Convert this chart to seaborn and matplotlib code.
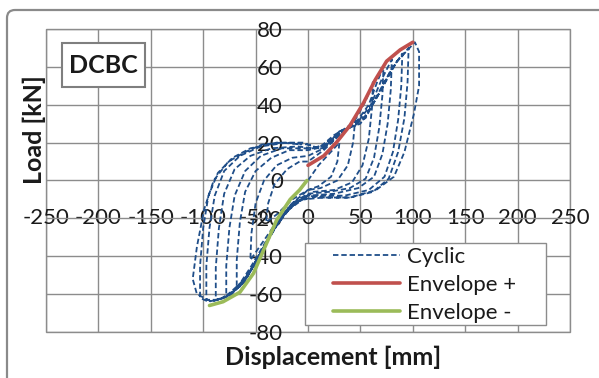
import numpy as np
import pandas as pd
import matplotlib.pyplot as plt
import seaborn as sns
from matplotlib.patches import Rectangle, FancyBboxPatch

# cyclic record, one cycle per pair of lists (displacement mm, load kN)
c1_x = [0, 10, 20, 30, 28, 22, 10, 0, -15, -30, -40, -38, -32, -20, -8, 0]
c1_y = [0, 8, 14, 20, 10, 2, -3, -5, -10, -18, -22, -12, -2, 6, 10, 10]
c2_x = [0, 15, 30, 45, 43, 38, 28, 12, 0, -15, -30, -45, -55, -54, -50, -42, -30, -15, 0]
c2_y = [10, 16, 24, 32, 20, 8, 0, -4, -5, -12, -22, -34, -42, -28, -12, 0, 8, 12, 13]
c3_x = [0, 15, 30, 45, 55, 62, 61, 58, 52, 42, 25, 5, -10, -25, -40, -55, -68, -68, -65, -60, -50, -35, -18, 0]
c3_y = [13, 17, 24, 32, 42, 52, 38, 22, 8, -1, -5, -6, -11, -19, -32, -46, -57, -42, -22, -6, 5, 12, 16, 16]
c4_x = [0, 15, 30, 45, 58, 66, 72, 71, 68, 63, 55, 40, 20, 0, -15, -30, -45, -60, -78, -78, -75, -70, -60, -45, -25, 0]
c4_y = [16, 18, 25, 30, 40, 52, 60, 45, 28, 12, 1, -4, -6, -7, -12, -22, -38, -52, -61, -45, -25, -8, 5, 13, 17, 17]
c5_x = [0, 15, 30, 45, 60, 70, 80, 79, 76, 71, 63, 48, 25, 0, -15, -30, -45, -60, -75, -88, -88, -85, -80, -70, -55, -35, -10, 5]
c5_y = [17, 17, 26, 29, 40, 53, 64, 48, 30, 14, 2, -4, -7, -8, -13, -23, -38, -53, -61, -63, -46, -25, -7, 6, 13, 17, 18, 17]
c6_x = [5, 20, 35, 50, 65, 78, 90, 89, 86, 81, 73, 58, 35, 10, -10, -25, -40, -55, -70, -85, -97, -97, -94, -89, -80, -65, -45, -20, 0, 10]
c6_y = [17, 20, 27, 30, 43, 57, 67, 50, 32, 15, 2, -5, -8, -8, -11, -19, -33, -48, -58, -63, -63, -45, -25, -8, 5, 13, 18, 20, 19, 17]
c7_x = [10, 25, 40, 55, 68, 82, 96, 95, 92, 86, 77, 62, 40, 15, -5, -20, -35, -50, -65, -80, -95, -103, -103, -100, -95, -86, -72, -55, -30, -5, 10]
c7_y = [17, 23, 28, 33, 47, 61, 70, 52, 33, 15, 1, -6, -9, -9, -10, -16, -28, -44, -56, -62, -64, -62, -45, -25, -8, 4, 12, 17, 20, 20, 17]
c8_x = [10, 25, 40, 55, 70, 85, 102, 106, 106, 101, 92, 82, 65, 40, 15, 0, -15, -30, -45, -60, -75, -92, -106, -110, -106, -99, -90, -76, -60, -44, -25, -6]
c8_y = [17, 24, 29, 34, 48, 63, 73, 68, 50, 35, 15, 2, -5, -9, -9, -8, -13, -24, -38, -53, -61, -64, -60, -52, -35, -15, 0, 10, 15, 19, 20, 19]

env_pos_x = [0, 15, 27, 40, 53, 64, 75, 88, 100]
env_pos_y = [8, 13, 20, 29, 41, 53, 63, 69, 73]
env_neg_x = [-1, -8, -17, -30, -41, -52, -65, -81, -94]
env_neg_y = [0, -5, -10, -21, -35, -49, -59, -64, -66]

x_ticks = [-250, -200, -150, -100, -50, 0, 50, 100, 150, 200, 250]
y_ticks = [-80, -60, -40, -20, 0, 20, 40, 60, 80]

cyc = pd.DataFrame({
    'disp': c1_x + c2_x + c3_x + c4_x + c5_x + c6_x + c7_x + c8_x,
    'load': c1_y + c2_y + c3_y + c4_y + c5_y + c6_y + c7_y + c8_y,
})

sns.set_style('white')
plt.rcParams['font.family'] = ['Lato', 'DejaVu Sans']
plt.rcParams['axes.unicode_minus'] = False
text_col = '#1a1a1a'
grid_col = '#8c8c8c'

fig = plt.figure(figsize=(5.99, 3.78), dpi=100)
ax = fig.add_axes([46 / 599, 1 - 332 / 378, 524 / 599, 303 / 378])

sns.lineplot(data=cyc, x='disp', y='load', sort=False, estimator=None, ax=ax,
             color='#1f4e89', lw=1.3, linestyle=(0, (3, 1.6)), label='Cyclic')
sns.lineplot(x=env_pos_x, y=env_pos_y, sort=False, estimator=None, ax=ax,
             color='#c0504d', lw=2.6, label='Envelope +')
sns.lineplot(x=env_neg_x, y=env_neg_y, sort=False, estimator=None, ax=ax,
             color='#9bbb59', lw=2.6, label='Envelope -')

ax.set_xlim(-250, 250)
ax.set_ylim(-80, 80)
ax.set_xticks(x_ticks)
ax.set_yticks(y_ticks)
ax.grid(True, color=grid_col, lw=1.0)
ax.set_axisbelow(True)
for s in ax.spines.values():
    s.set_visible(False)
ax.patch.set_edgecolor(grid_col)
ax.patch.set_linewidth(1.0)

# tick labels sit near the origin, like the Excel chart
ax.spines['left'].set_position(('data', 0))
ax.spines['bottom'].set_position(('data', -20))
ax.tick_params(axis='both', length=0, labelsize=16, colors=text_col)
ax.tick_params(axis='y', pad=18)
ax.tick_params(axis='x', pad=0)
for lbl in ax.get_xticklabels():
    lbl.set_va('center')

ax.set_xlabel('Displacement [mm]', fontsize=18, fontweight='bold', color=text_col)
ax.set_ylabel('Load [kN]', fontsize=18, fontweight='bold', color=text_col)
ax.xaxis.set_label_coords(0.548, -0.083)
ax.xaxis.label.set_va('center')
ax.yaxis.set_label_coords(-0.023, 0.667)
ax.yaxis.label.set_va('center')

# DCBC tag
ax.add_patch(Rectangle((0.0305, 0.8086), 0.158, 0.145, transform=ax.transAxes,
                       facecolor='white', edgecolor='#7f7f7f', lw=1.5, zorder=5))
ax.text(0.1097, 0.881, 'DCBC', transform=ax.transAxes, ha='center', va='center',
        fontsize=18, fontweight='bold', color=text_col, zorder=6)

# legend box drawn separately so the side padding can be wider than the top
ax.add_patch(Rectangle((259 / 524, 1 - 296 / 303), 241 / 524, 82 / 303,
                       transform=ax.transAxes, facecolor='white',
                       edgecolor=grid_col, lw=1.0, zorder=4.5))
leg = ax.legend(loc='upper left', bbox_to_anchor=(287 / 524, 1 - 218 / 303),
                borderaxespad=0, borderpad=0, fontsize=16, frameon=False,
                handlelength=3.0, handletextpad=0.35, labelspacing=0.35)
for t in leg.get_texts():
    t.set_color(text_col)

# outer chart border
fig.patches.append(FancyBboxPatch((0.07, -0.3), 7.0, 3.98, transform=fig.dpi_scale_trans,
                                  boxstyle='round,pad=0,rounding_size=0.08',
                                  facecolor='none', edgecolor='#8a8a8a', lw=1.6))

fig.savefig('out.png', dpi=100)
plt.close(fig)
